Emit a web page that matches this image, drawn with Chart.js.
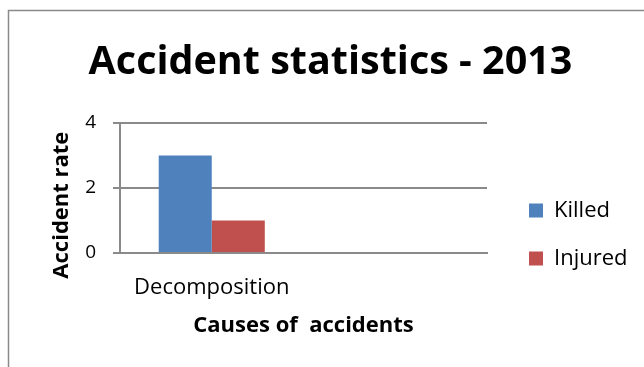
<!DOCTYPE html>
<html>
<head>
<meta charset="utf-8">
<script src="https://cdn.jsdelivr.net/npm/chart.js@4"></script>
<style>
  html, body { margin: 0; padding: 0; background: #fff; }
  #wrap { position: relative; width: 644px; height: 367px; }
</style>
</head>
<body>
<div id="wrap"><canvas id="chart"></canvas></div>
<script>
const categories = ['Decomposition', ''];
const killed = [3, null];
const injured = [1, null];
const seriesNames = ['Killed', 'Injured'];
const yTicks = [0, 2, 4];

// grey frame of the original chart box (left and top edge only)
const frame = {
    id: 'frame',
    beforeDraw(chart) {
        const ctx = chart.ctx;
        ctx.save();
        ctx.strokeStyle = '#8a8a8a';
        ctx.lineWidth = 1.5;
        ctx.beginPath();
        ctx.moveTo(8.5, chart.height);
        ctx.lineTo(8.5, 10.5);
        ctx.lineTo(chart.width, 10.5);
        ctx.stroke();
        ctx.restore();
    }
};

Chart.defaults.font.family = "'Open Sans', sans-serif";
Chart.defaults.color = '#000';

new Chart(document.getElementById('chart'), {
    type: 'bar',
    data: {
        labels: categories,
        datasets: [
            { label: seriesNames[0], data: killed, backgroundColor: '#4f81bd' },
            { label: seriesNames[1], data: injured, backgroundColor: '#c0504d' }
        ]
    },
    options: {
        responsive: true,
        maintainAspectRatio: false,
        animation: false,
        devicePixelRatio: 1,
        layout: { padding: { left: 23.5, right: 6.5, top: 0, bottom: 28.5 } },
        datasets: {
            bar: { categoryPercentage: 0.578, barPercentage: 1 }
        },
        plugins: {
            title: {
                display: true,
                text: 'Accident statistics - 2013',
                font: { size: 39.5, weight: 'bold' },
                padding: { top: 39.2, bottom: 36.4 }
            },
            legend: {
                position: 'right',
                maxWidth: 200,
                title: { display: true, text: ' ', font: { size: 10, lineHeight: 1 }, padding: { top: 120.5, bottom: 0 } },
                labels: {
                    boxWidth: 14,
                    boxHeight: 14,
                    padding: 26,
                    font: { size: 22 }
                }
            },
            tooltip: { enabled: false }
        },
        scales: {
            x: {
                afterFit: s => { s.height = 85.5; },
                grid: { display: false, drawTicks: false },
                border: { display: true, color: '#8a8a8a', width: 2 },
                ticks: { font: { size: 22 }, padding: 21.5, maxRotation: 0, autoSkip: false },
                title: {
                    display: true,
                    text: 'Causes of  accidents',
                    font: { size: 22, weight: 'bold' },
                    padding: { top: 0, bottom: 0 }
                }
            },
            y: {
                min: 0,
                max: 4,
                afterFit: s => { s.width = 96.5; },
                afterBuildTicks: axis => { axis.ticks = yTicks.map(v => ({ value: v })); },
                grid: { color: '#8a8a8a', lineWidth: 2, tickLength: 7 },
                border: { display: true, color: '#8a8a8a', width: 2 },
                ticks: { font: { size: 19 }, padding: 17 },
                title: {
                    display: true,
                    text: 'Accident rate      ',
                    font: { size: 22, weight: 'bold' },
                    padding: { top: 25.3, bottom: 0 }
                }
            },
            // empty spacer between plot area and legend
            gap: {
                position: 'right',
                type: 'linear',
                display: true,
                grid: { display: false, drawTicks: true, tickLength: 16 },
                border: { display: false },
                ticks: { display: false },
                title: { display: false }
            }
        }
    },
    plugins: [frame]
});
</script>
</body>
</html>
